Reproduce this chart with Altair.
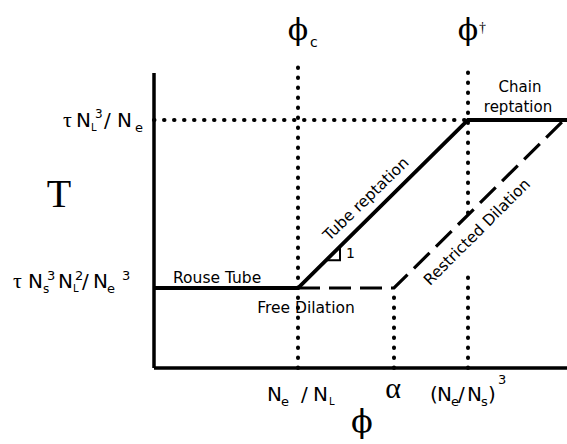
import altair as alt
import pandas as pd

# Positions on the log(concentration) axis
phi_c = 1.44        # N_e / N_L
phi_alpha = 2.40    # alpha
phi_dag = 3.14      # (N_e / N_s)^3
phi_end = 4.13

# Levels on the log(relaxation time) axis
tau_rouse = 0.80    # tau N_s^3 N_L^2 / N_e^3
tau_rep = 2.48      # tau N_L^3 / N_e
tau_top = 2.95

# Regime curves
solid_x = [0.0, phi_c, phi_dag, phi_end]
solid_y = [tau_rouse, tau_rouse, tau_rep, tau_rep]
dashed_x = [phi_c, phi_alpha, 4.10]
dashed_y = [tau_rouse, tau_rouse, tau_rep]

X = alt.Scale(domain=[0, phi_end], nice=False, zero=False)
Y = alt.Scale(domain=[0, tau_top], nice=False, zero=False)


def path(xs, ys, **mark):
    df = pd.DataFrame({"x": xs, "y": ys, "i": range(len(xs))})
    return alt.Chart(df).mark_line(color="black", **mark).encode(
        x=alt.X("x:Q", scale=X, axis=None),
        y=alt.Y("y:Q", scale=Y, axis=None),
        order="i:Q",
    )


def segments(rows, **mark):
    df = pd.DataFrame(rows, columns=["x", "y", "x2", "y2"])
    return alt.Chart(df).mark_rule(color="black", **mark).encode(
        x=alt.X("x:Q", scale=X, axis=None),
        y=alt.Y("y:Q", scale=Y, axis=None),
        x2="x2:Q",
        y2="y2:Q",
    )


axes = segments([(0, 0, 0, tau_top), (0, 0, phi_end, 0)], strokeWidth=3.5)

dotted = segments(
    [
        (phi_c, 0, phi_c, 3.02),
        (phi_dag, 0, phi_dag, 0.95),
        (phi_dag, 1.55, phi_dag, 3.02),
        (phi_alpha, 0, phi_alpha, tau_rouse),
        (0, tau_rep, phi_dag, tau_rep),
    ],
    strokeWidth=4, strokeDash=[0.5, 9.5], strokeCap="round",
)

solid = path(solid_x, solid_y, strokeWidth=3.8, strokeJoin="miter")
dashed = path(dashed_x, dashed_y, strokeWidth=3.2, strokeDash=[22, 9])

# slope triangle on the tube-reptation line
slope = (tau_rep - tau_rouse) / (phi_dag - phi_c)
tx0, tx1 = 1.72, 1.86
tri = path(
    [tx0, tx1, tx1],
    [tau_rouse + (tx0 - phi_c) * slope, tau_rouse + (tx0 - phi_c) * slope,
     tau_rouse + (tx1 - phi_c) * slope],
    strokeWidth=2,
)

SANS = "DejaVu Sans"
SERIF = "Liberation Serif"
GREEK = "DejaVu Serif"
PHI = "\u03d5"

# text pieces: (text, x, y, size, font, align, angle)
pieces = [
    # tau N_L^3 / N_e
    ("\u03c4", -0.91, 2.41, 22, SERIF, "left", 0),
    ("N", -0.78, 2.41, 20, SANS, "left", 0),
    ("L", -0.63, 2.37, 10, SANS, "left", 0),
    ("3", -0.59, 2.50, 12, SANS, "left", 0),
    ("/", -0.50, 2.41, 20, SANS, "left", 0),
    ("N", -0.37, 2.41, 20, SANS, "left", 0),
    ("e", -0.19, 2.36, 13, SANS, "left", 0),
    # tau N_s^3 N_L^2 / N_e^3
    ("\u03c4", -1.41, 0.80, 22, SERIF, "left", 0),
    ("N", -1.26, 0.80, 20, SANS, "left", 0),
    ("s", -1.11, 0.75, 12, SANS, "left", 0),
    ("3", -1.07, 0.88, 13, SANS, "left", 0),
    ("N", -0.96, 0.80, 20, SANS, "left", 0),
    ("L", -0.81, 0.76, 10, SANS, "left", 0),
    ("2", -0.79, 0.88, 13, SANS, "left", 0),
    ("/", -0.72, 0.80, 20, SANS, "left", 0),
    ("N", -0.61, 0.80, 20, SANS, "left", 0),
    ("e", -0.47, 0.75, 13, SANS, "left", 0),
    ("3", -0.32, 0.88, 13, SANS, "left", 0),
    # y title
    ("T", -0.95, 1.61, 40, SERIF, "center", 0),
    # N_e / N_L
    ("N", 1.13, -0.33, 20, SANS, "left", 0),
    ("e", 1.27, -0.38, 13, SANS, "left", 0),
    ("/", 1.47, -0.33, 20, SANS, "left", 0),
    ("N", 1.59, -0.33, 20, SANS, "left", 0),
    ("L", 1.75, -0.37, 10, SANS, "left", 0),
    # alpha
    ("\u03b1", phi_alpha - 0.01, -0.30, 30, SERIF, "center", 0),
    # (N_e / N_s)^3
    ("(", 2.76, -0.33, 20, SANS, "left", 0),
    ("N", 2.83, -0.33, 20, SANS, "left", 0),
    ("e", 2.97, -0.38, 13, SANS, "left", 0),
    ("/", 3.04, -0.33, 20, SANS, "left", 0),
    ("N", 3.13, -0.33, 20, SANS, "left", 0),
    ("s", 3.27, -0.38, 13, SANS, "left", 0),
    (")", 3.34, -0.33, 20, SANS, "left", 0),
    ("3", 3.44, -0.16, 13, SANS, "left", 0),
    # x title
    (PHI, 2.08, -0.64, 32, GREEK, "center", 0),
    # phi_c and phi-dagger
    (PHI, phi_c, 3.28, 30, GREEK, "center", 0),
    ("c", 1.56, 3.21, 14, SANS, "left", 0),
    (PHI, phi_dag, 3.28, 30, GREEK, "center", 0),
    ("\u2020", 3.25, 3.36, 14, SERIF, "left", 0),
    # regime names
    ("Rouse Tube", 0.19, 0.85, 15.5, SANS, "left", 0),
    ("Free Dilation", 1.52, 0.55, 15.5, SANS, "center", 0),
    ("Chain", 3.66, 2.76, 15, SANS, "center", 0),
    ("reptation", 3.64, 2.56, 15, SANS, "center", 0),
    ("1", 1.92, 1.10, 14, SANS, "left", 0),
    ("Tube reptation", 2.12, 1.69, 15.5, SANS, "center", 316),
    ("Restricted Dilation", 3.23, 1.36, 15.5, SANS, "center", 315),
]
labels = pd.DataFrame(pieces, columns=["t", "x", "y", "size", "font", "align", "angle"])

text_layers = []
for (font, align, angle), grp in labels.groupby(["font", "align", "angle"]):
    text_layers.append(
        alt.Chart(grp).mark_text(
            font=font, align=align, baseline="alphabetic" if angle == 0 else "middle",
            angle=int(angle), color="black",
        ).encode(
            x=alt.X("x:Q", scale=X, axis=None),
            y=alt.Y("y:Q", scale=Y, axis=None),
            text="t:N",
            size=alt.Size("size:Q", scale=None, legend=None),
        )
    )

chart = alt.layer(axes, dotted, dashed, solid, tri, *text_layers).properties(
    width=413,
    height=295,
    padding={"left": 154, "top": 73, "right": 0, "bottom": 76},
    autosize=alt.AutoSizeParams(type="none"),
    background="white",
).configure_view(stroke=None)

chart.save("out.html", embed_options={"renderer": "svg", "actions": False})
